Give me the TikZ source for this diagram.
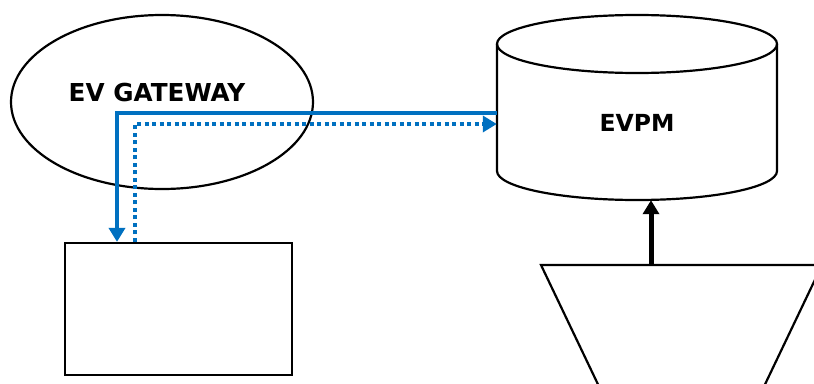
\documentclass[tikz,border=0pt]{standalone}
\usepackage{fontspec}
\setmainfont{DejaVu Sans}
\usetikzlibrary{arrows.meta,shapes.geometric}
\definecolor{arrowblue}{HTML}{0070C0}
\tikzset{
  outline/.style={draw=black, line width=2.2pt},
  lbl/.style={font=\bfseries\fontsize{23.5}{28}\selectfont, inner sep=0pt},
  bluesolid/.style={draw=arrowblue, line width=4.5pt, -{Triangle[length=14pt,width=16pt]}},
  bluedot/.style={draw=arrowblue, line width=4pt, dash pattern=on 4pt off 3.5pt, -{Triangle[length=14pt,width=16pt]}},
  blackarrow/.style={draw=black, line width=5pt, -{Triangle[length=14pt,width=16pt]}}
}
\begin{document}
\begin{tikzpicture}[x=1pt,y=-1pt]
\useasboundingbox (0,0) rectangle (814,383);
\clip (0,0) rectangle (814,383);
% EV GATEWAY ellipse
\node[ellipse, outline, minimum width=302pt, minimum height=174pt, inner sep=0pt] (gw) at (162,102) {};
\node[lbl, font=\bfseries\fontsize{24.7}{29}\selectfont] (gwtext) at (157,93) {EV GATEWAY};
% box
\node[rectangle, outline, minimum width=227pt, minimum height=132pt, inner sep=0pt] (box) at (178.5,309) {};
% EVPM cylinder
\node[minimum width=280pt, minimum height=185pt, inner sep=0pt] (evpm) at (637,107.5) {};
\draw[outline, fill=white] (497,44) -- (497,171) arc[start angle=180, end angle=0, x radius=140, y radius=29] -- (777,44);
\draw[outline] (637,44) ellipse[x radius=140, y radius=29];
\node[lbl] (evpmtext) at (637,123) {EVPM};
% trapezoid
\draw[outline] (541,265) -- (822,265) -- (748,420) -- (615,420) -- cycle;
\coordinate (trtop) at (651,265);
% connectors
\coordinate (c1) at (117,113);
\coordinate (c2) at (135,124);
\draw[bluesolid] (evpm.west |- c1) -- (c1) -- (c1 |- box.north);
\draw[bluedot] (c2 |- box.north) -- (c2) -- (evpm.west |- c2);
\draw[blackarrow] (trtop) -- (trtop |- evpm.south);
\end{tikzpicture}
\end{document}
